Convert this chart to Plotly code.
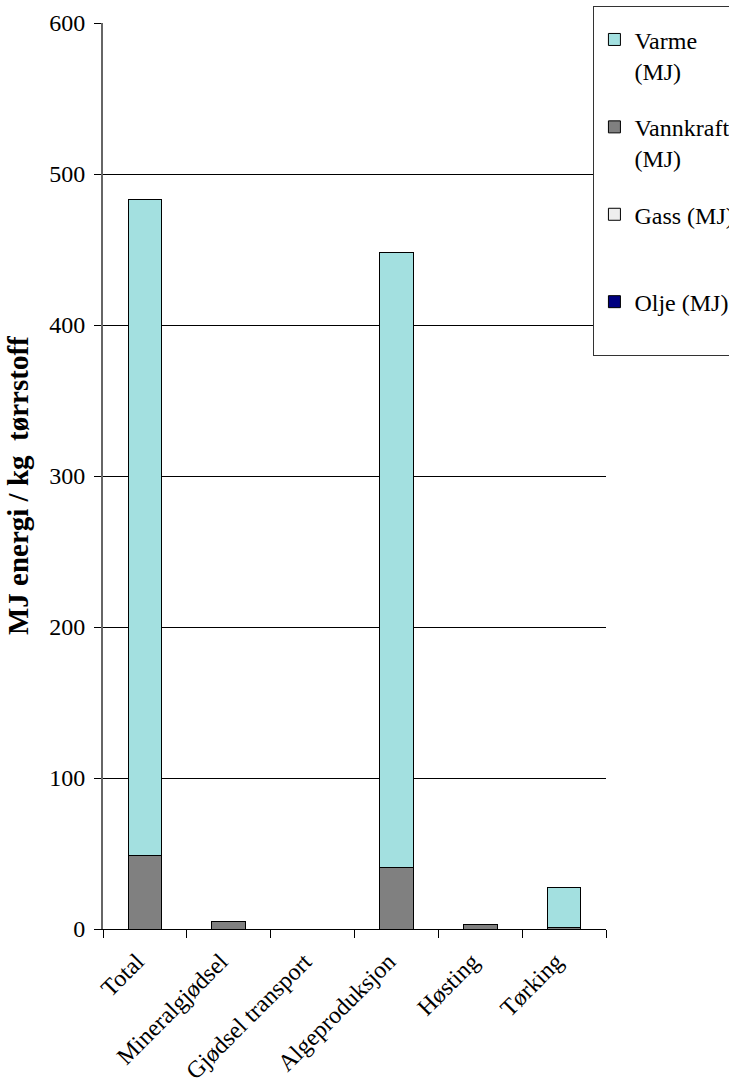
import plotly.graph_objects as go

categories = ["Total", "Mineralgjødsel", "Gjødsel transport", "Algeproduksjon", "Høsting", "Tørking"]
olje = [0, 0, 0, 0, 0, 0]
gass = [0, 0, 0, 0, 0, 0]
vannkraft = [49, 5, 0, 41, 3, 0.8]
varme = [434, 0, 0, 407, 0, 26.7]

y_ticks = [0, 100, 200, 300, 400, 500, 600]
y_title = "<b>MJ energi / kg  tørrstoff</b>"

FONT = "Liberation Serif"

# (legend label, values, colour, legend rank)
series = [
    ("Olje (MJ)<br> ", olje, "#000080", 4),
    ("Gass (MJ)<br> ", gass, "#EEEEEE", 3),
    ("Vannkraft<br>(MJ)", vannkraft, "#808080", 2),
    ("Varme<br>(MJ)", varme, "#A3E0E0", 1),
]

fig = go.Figure()
for i, (name, vals, col, rank) in enumerate(series):
    fig.add_trace(go.Bar(
        x=categories, y=vals, name=name, legendgroup=str(i), legendrank=rank,
        marker=dict(color=col, line=dict(color="black", width=1)),
    ))

fig.add_annotation(
    text=y_title, textangle=-90, showarrow=False,
    xref="paper", yref="paper", x=-0.169, y=0.490,
    xanchor="center", yanchor="middle",
    font=dict(family=FONT, size=29, color="black"),
)

fig.update_layout(
    width=729, height=1092,
    barmode="stack", bargap=0.6,
    plot_bgcolor="white", paper_bgcolor="white",
    margin=dict(l=103, r=123, t=23, b=163, autoexpand=False),
    font=dict(family=FONT, size=24, color="black"),
    showlegend=True,
    legend=dict(
        x=0.975, y=1.0188, xanchor="left", yanchor="top",
        traceorder="grouped", tracegroupgap=22,
        valign="top",
        title=dict(text=" ", font=dict(family=FONT, size=8)),
        bgcolor="white", bordercolor="#333", borderwidth=1,
        font=dict(family="Liberation Serif, serif", size=24, color="black"),
    ),
    xaxis=dict(
        type="category", categoryarray=categories,
        tickson="boundaries", ticks="outside", ticklen=8, tickcolor="black",
        showline=True, linecolor="black", linewidth=1,
        tickangle=-45, showgrid=False,
        ticklabelshift=-8, ticklabelstandoff=8,
        tickfont=dict(family=FONT, size=24, color="black"),
    ),
    xaxis2=dict(
        type="category", categoryarray=categories, range=[-0.5, 5.5],
        overlaying="x", anchor="y", side="bottom",
        tickson="boundaries", ticks="inside", ticklen=8, tickcolor="black",
        showticklabels=False, showgrid=False, showline=False,
    ),
    yaxis=dict(
        range=[0, 600], tickvals=y_ticks, ticks="outside", ticklen=7, tickcolor="black",
        showgrid=True, gridcolor="black", gridwidth=1,
        showline=True, linecolor="#666", linewidth=2, zeroline=False,
        ticklabelstandoff=4,
        tickfont=dict(family=FONT, size=24, color="black"),
    ),
)

fig.write_html("out.html", config={"displayModeBar": False},
               post_script="document.body.style.margin='0';document.body.style.overflow='hidden';")
